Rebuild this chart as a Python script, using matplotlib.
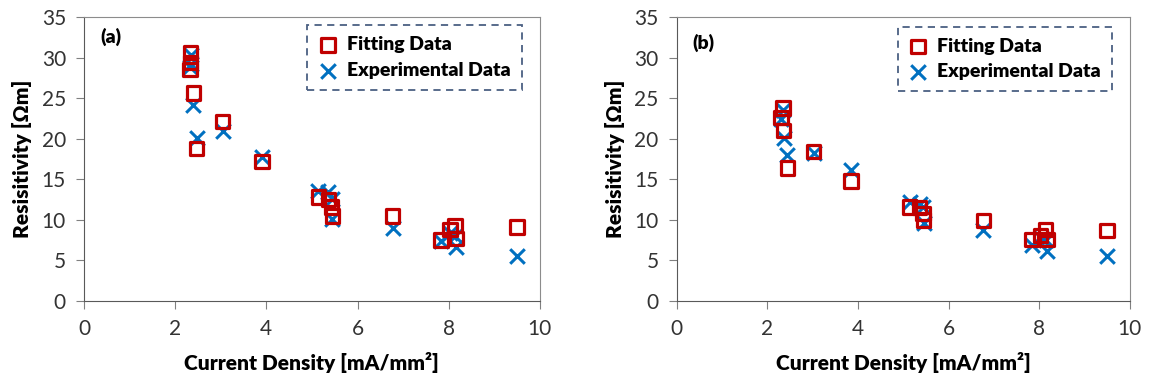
import matplotlib.pyplot as plt

plt.rcParams['font.family'] = ['Lato', 'DejaVu Sans']

# panel (a)
xa = [2.34, 2.34, 2.32, 2.40, 2.47, 3.04, 3.90, 5.14, 5.36, 5.43, 5.45, 6.77, 7.83, 8.03, 8.14, 8.17, 9.50]
fit_a = [30.6, 29.4, 28.5, 25.6, 18.8, 22.1, 17.2, 12.8, 12.5, 11.6, 10.5, 10.5, 7.5, 8.8, 9.3, 7.7, 9.1]
exp_a = [30.3, 29.2, 28.8, 24.2, 20.1, 20.9, 17.8, 13.5, 13.4, 12.6, 10.1, 9.0, 7.4, 8.4, 8.0, 6.6, 5.6]

# panel (b)
xb = [2.34, 2.30, 2.36, 2.44, 3.02, 3.85, 5.14, 5.36, 5.43, 5.45, 6.77, 7.83, 8.03, 8.14, 8.17, 9.50]
fit_b = [23.8, 22.6, 21.0, 16.4, 18.4, 14.8, 11.6, 11.5, 10.8, 10.0, 9.9, 7.6, 8.1, 8.8, 7.6, 8.7]
exp_b = [23.5, 22.4, 20.1, 18.0, 18.2, 16.1, 12.2, 12.0, 11.6, 9.6, 8.8, 6.9, 7.8, 7.5, 6.2, 5.5]

xticks = [0, 2, 4, 6, 8, 10]
yticks = [0, 5, 10, 15, 20, 25, 30, 35]

fig = plt.figure(figsize=(11.51, 3.85), dpi=100)
axa = fig.add_axes([0.073, 0.218, 0.396, 0.738])
axb = fig.add_axes([0.588, 0.218, 0.3936, 0.738])

panels = [(axa, xa, fit_a, exp_a, '(a)', 0.93, 0.97),
          (axb, xb, fit_b, exp_b, '(b)', 0.91, 0.965)]

for ax, x, fit, exp, tag, ty, ly in panels:
    ax.scatter(x, fit, marker='s', s=95, facecolors='none', edgecolors='#C00000',
               linewidths=2.3, label='Fitting Data', zorder=3)
    ax.scatter(x, exp, marker='x', s=110, color='#0070C0', linewidths=2.2,
               label='Experimental Data', zorder=2)
    ax.set_xlim(0, 10)
    ax.set_ylim(0, 35)
    ax.set_xticks(xticks)
    ax.set_yticks(yticks)
    ax.tick_params(axis='both', direction='out', length=6, color='#808080',
                   labelsize=15, labelcolor='#333333')
    ax.tick_params(axis='x', pad=7)
    ax.tick_params(axis='y', pad=7)
    for s in ['top', 'right']:
        ax.spines[s].set_color('#8c8c8c')
    for s in ['left', 'bottom']:
        ax.spines[s].set_color('#595959')
    ax.set_xlabel('Current Density [mA/mm²]', fontsize=15, fontweight='heavy', labelpad=9)
    ax.set_ylabel('Resisitivity [Ωm]', fontsize=15, fontweight='heavy', labelpad=7)
    ax.text(0.035, ty, tag, transform=ax.transAxes, fontsize=14, fontweight='heavy',
            va='center')
    leg = ax.legend(loc='upper right', bbox_to_anchor=(0.96, ly),
                    prop={'weight': 'heavy', 'size': 14}, frameon=True, fancybox=False,
                    handletextpad=0.5, borderpad=0.55, labelspacing=0.45,
                    handlelength=1.0, borderaxespad=0)
    fr = leg.get_frame()
    fr.set_edgecolor('#1F3864')
    fr.set_linestyle((0, (4, 3)))
    fr.set_linewidth(1.3)

fig.savefig('out.png', dpi=100)
